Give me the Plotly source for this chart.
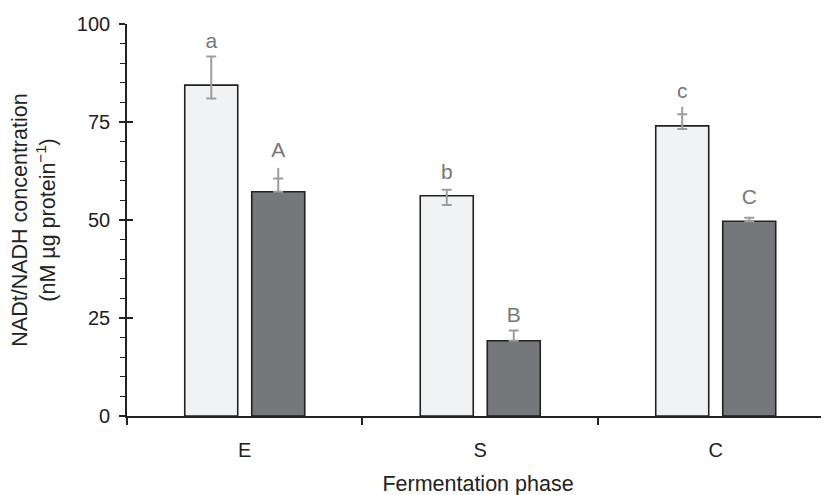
import plotly.graph_objects as go

phases = ["E", "S", "C"]

nadt = [84.4, 56.2, 74.0]
nadt_err_plus = [7.3, 1.5, 3.0]
nadt_err_minus = [3.4, 2.4, 0.8]
nadt_line_ext = [0.0, 0.0, 1.9]
nadt_letters = ["a", "b", "c"]
nadt_letter_y = [95.3, 61.9, 82.4]

nadh = [57.2, 19.2, 49.7]
nadh_err_plus = [3.4, 2.6, 0.9]
nadh_err_minus = [0.0, 0.0, 0.0]
nadh_line_ext = [2.7, 0.0, 0.0]
nadh_letters = ["A", "B", "C"]
nadh_letter_y = [67.4, 25.3, 55.5]

y_ticks = [0, 25, 50, 75, 100]

FONT = "Liberation Sans, Arial, sans-serif"
AX = "#222222"
ERR = "#9d9d9d"
LET = "#777777"

fig = go.Figure()

def add_series(vals, ep, em, ext, letters, ly, fill, grp, name):
    fig.add_trace(go.Bar(
        x=phases, y=vals, name=name, offsetgroup=grp,
        marker=dict(color=fill, line=dict(color=AX, width=1.6)),
        error_y=dict(type="data", symmetric=False, array=ep, arrayminus=em,
                     color=ERR, thickness=2, width=5),
        hoverinfo="skip",
    ))
    cap = [v + p for v, p in zip(vals, ep)]
    fig.add_trace(go.Scatter(
        x=phases, y=cap, mode="markers", offsetgroup=grp,
        marker=dict(size=1, opacity=0),
        error_y=dict(type="data", symmetric=False, array=ext,
                     arrayminus=[0] * len(ext), color=ERR, thickness=2, width=0),
        showlegend=False, hoverinfo="skip",
    ))
    fig.add_trace(go.Scatter(
        x=phases, y=ly, mode="text", text=letters, offsetgroup=grp,
        textfont=dict(family=FONT, size=21, color=LET),
        showlegend=False, hoverinfo="skip",
    ))

add_series(nadt, nadt_err_plus, nadt_err_minus, nadt_line_ext,
           nadt_letters, nadt_letter_y, "#f1f2f4", "1", "NADt")
add_series(nadh, nadh_err_plus, nadh_err_minus, nadh_line_ext,
           nadh_letters, nadh_letter_y, "#76777b", "2", "NADH")

fig.update_layout(
    width=829, height=495,
    margin=dict(l=119, r=8, t=16, b=87),
    paper_bgcolor="white", plot_bgcolor="white",
    barmode="group", bargap=0.431, bargroupgap=0.209,
    scattermode="group", scattergap=0.431,
    showlegend=False,
    font=dict(family=FONT, size=20, color=AX),
    xaxis=dict(
        type="category", range=[-0.5, 2.481],
        showline=True, linecolor=AX, linewidth=1.6,
        ticks="outside", tickson="boundaries", ticklen=7, tickwidth=1.6,
        tickcolor=AX, ticklabelstandoff=15, showgrid=False, zeroline=False,
        title=dict(text="Fermentation phase", standoff=16,
                   font=dict(size=21.5, color=AX)),
        automargin=False,
    ),
    yaxis=dict(
        range=[0, 100], tickvals=y_ticks,
        showline=True, linecolor=AX, linewidth=1.6,
        ticks="outside", ticklen=6, tickwidth=1.6, tickcolor=AX,
        minor=dict(dtick=5, ticks="outside", ticklen=5, tickwidth=1.2,
                   tickcolor=AX),
        ticklabelstandoff=5, showgrid=False, zeroline=False,
        title=dict(text="NADt/NADH concentration<br>(nM µg protein<sup>−1</sup>)",
                   standoff=18, font=dict(size=21.5, color=AX)),
        automargin=False,
    ),
    yaxis2=dict(
        overlaying="y", range=[0, 100], tickvals=y_ticks,
        ticks="inside", ticklen=6, tickwidth=1.6, tickcolor=AX,
        showticklabels=False, showline=False, showgrid=False, zeroline=False,
    ),
)

# invisible trace to activate the inside-tick overlay axis
fig.add_trace(go.Scatter(x=[phases[0]], y=[0], yaxis="y2", mode="markers",
                         marker=dict(opacity=0), showlegend=False,
                         hoverinfo="skip"))

fig.write_html("out.html")
